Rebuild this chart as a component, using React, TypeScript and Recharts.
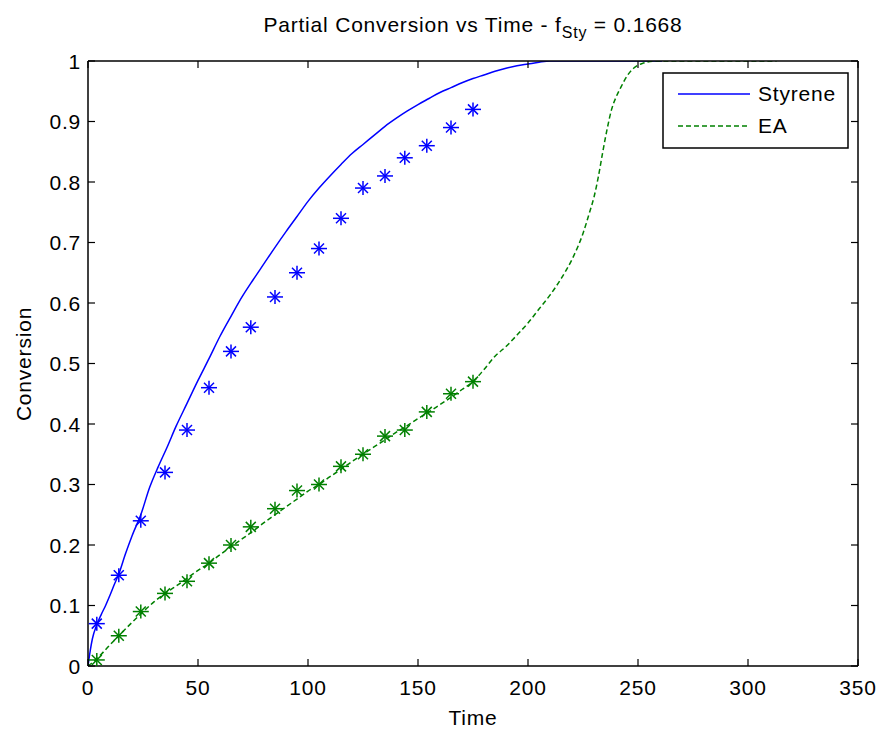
import { ComposedChart, Line, Scatter, XAxis, YAxis } from "recharts";

// measured points (asterisks)
const expTime = [4, 14, 24, 35, 45, 55, 65, 74, 85, 95, 105, 115, 125, 135, 144, 154, 165, 175];
const styreneExp = [0.07, 0.15, 0.24, 0.32, 0.39, 0.46, 0.52, 0.56, 0.61, 0.65, 0.69, 0.74, 0.79, 0.81, 0.84, 0.86, 0.89, 0.92];
const eaExp = [0.01, 0.05, 0.09, 0.12, 0.14, 0.17, 0.2, 0.23, 0.26, 0.29, 0.3, 0.33, 0.35, 0.38, 0.39, 0.42, 0.45, 0.47];

// model curves
const styreneT = [0, 1, 2, 4, 6, 8, 10, 12, 14, 17, 20, 24, 28, 32, 36, 40, 45, 50, 55, 60, 65, 70, 75, 80, 85, 90, 95, 100, 105, 110, 115, 120, 125, 130, 135, 140, 145, 150, 155, 160, 165, 170, 175, 180, 185, 190, 195, 200, 205, 210, 261];
const styreneV = [0, 0.025, 0.045, 0.068, 0.085, 0.1, 0.117, 0.135, 0.152, 0.185, 0.215, 0.25, 0.295, 0.33, 0.362, 0.396, 0.434, 0.472, 0.508, 0.545, 0.578, 0.61, 0.638, 0.665, 0.692, 0.718, 0.743, 0.768, 0.79, 0.81, 0.829, 0.847, 0.862, 0.877, 0.892, 0.905, 0.917, 0.928, 0.938, 0.948, 0.956, 0.964, 0.971, 0.977, 0.983, 0.988, 0.992, 0.995, 0.998, 1, 1];
const eaT = [0, 4, 10, 14, 20, 24, 30, 35, 40, 45, 50, 55, 60, 65, 70, 75, 80, 85, 90, 95, 100, 105, 110, 115, 120, 125, 130, 135, 140, 145, 150, 155, 160, 165, 170, 175, 180, 185, 190, 195, 200, 205, 210, 215, 220, 225, 228, 230, 232, 234, 236, 238, 240, 242, 245, 248, 252, 258, 313];
const eaV = [0, 0.012, 0.035, 0.05, 0.072, 0.086, 0.106, 0.12, 0.132, 0.145, 0.158, 0.17, 0.184, 0.197, 0.21, 0.223, 0.237, 0.25, 0.263, 0.276, 0.289, 0.3, 0.313, 0.325, 0.338, 0.35, 0.362, 0.374, 0.386, 0.397, 0.409, 0.42, 0.432, 0.444, 0.457, 0.47, 0.49, 0.512, 0.528, 0.547, 0.567, 0.59, 0.613, 0.64, 0.672, 0.715, 0.75, 0.775, 0.809, 0.85, 0.888, 0.92, 0.94, 0.955, 0.975, 0.988, 0.996, 1, 1];

const xTicks = [0, 50, 100, 150, 200, 250, 300, 350];
const yTicks = [0, 0.1, 0.2, 0.3, 0.4, 0.5, 0.6, 0.7, 0.8, 0.9, 1];

const styreneLine = styreneT.map((t, i) => ({ t, v: styreneV[i] }));
const eaLine = eaT.map((t, i) => ({ t, v: eaV[i] }));
const styrenePts = expTime.map((t, i) => ({ t, v: styreneExp[i] }));
const eaPts = expTime.map((t, i) => ({ t, v: eaExp[i] }));

const BLUE = "#0000ff";
const GREEN = "#008000";
const FONT = "'Liberation Sans', Arial, sans-serif";
const FS = 21;
const LS = 0.8;
const TICK = 7;

const Star = (color: string) => (p: any) => {
  const { cx, cy } = p;
  if (cx == null || cy == null) return <g />;
  const h = 8, v = 7, d = 5;
  return (
    <g stroke={color} strokeWidth={1.5}>
      <line x1={cx - h} y1={cy} x2={cx + h} y2={cy} />
      <line x1={cx} y1={cy - v} x2={cx} y2={cy + v} />
      <line x1={cx - d} y1={cy - d} x2={cx + d} y2={cy + d} />
      <line x1={cx - d} y1={cy + d} x2={cx + d} y2={cy - d} />
    </g>
  );
};

const BottomTick = (p: any) => (
  <g>
    <line x1={p.x} x2={p.x} y1={p.y} y2={p.y - TICK} stroke="#000" strokeWidth={1.2} />
    <text x={p.x} y={p.y + 29} textAnchor="middle" fontSize={FS} letterSpacing={LS} fontFamily={FONT} fill="#000">
      {p.payload.value}
    </text>
  </g>
);
const TopTick = (p: any) => (
  <line x1={p.x} x2={p.x} y1={p.y} y2={p.y + TICK} stroke="#000" strokeWidth={1.2} />
);
const LeftTick = (p: any) => (
  <g>
    <line x1={p.x} x2={p.x + TICK} y1={p.y} y2={p.y} stroke="#000" strokeWidth={1.2} />
    <text x={p.x - 7} y={p.y} dy="0.36em" textAnchor="end" fontSize={FS} letterSpacing={LS} fontFamily={FONT} fill="#000">
      {String(p.payload.value)}
    </text>
  </g>
);
const RightTick = (p: any) => (
  <line x1={p.x} x2={p.x - TICK} y1={p.y} y2={p.y} stroke="#000" strokeWidth={1.2} />
);

const axisLine = { stroke: "#000", strokeWidth: 1.5 };

export default function App() {
  return (
    <div style={{ position: "absolute", left: 0, top: 0, width: 880, height: 730, background: "#fff" }}>
      <ComposedChart width={880} height={730} margin={{ top: 51, right: 12, bottom: 34, left: 28 }}>
        <XAxis
          xAxisId="b"
          type="number"
          dataKey="t"
          domain={[0, 350]}
          ticks={xTicks}
          allowDataOverflow
          orientation="bottom"
          height={30}
          tickSize={0}
          tickMargin={0}
          tickLine={false}
          axisLine={axisLine}
          tick={BottomTick}
          interval={0}
        />
        <XAxis
          xAxisId="top"
          type="number"
          dataKey="t"
          domain={[0, 350]}
          ticks={xTicks}
          allowDataOverflow
          orientation="top"
          height={10}
          tickSize={0}
          tickMargin={0}
          tickLine={false}
          axisLine={axisLine}
          tick={TopTick}
          interval={0}
        />
        <YAxis
          yAxisId="l"
          type="number"
          domain={[0, 1]}
          ticks={yTicks}
          allowDataOverflow
          orientation="left"
          width={60}
          tickSize={0}
          tickMargin={0}
          tickLine={false}
          axisLine={axisLine}
          tick={LeftTick}
          interval={0}
        />
        <YAxis
          yAxisId="r"
          type="number"
          domain={[0, 1]}
          ticks={yTicks}
          allowDataOverflow
          orientation="right"
          width={10}
          tickSize={0}
          tickMargin={0}
          tickLine={false}
          axisLine={axisLine}
          tick={RightTick}
          interval={0}
        />
        <Line
          xAxisId="b"
          yAxisId="l"
          data={styreneLine}
          dataKey="v"
          type="monotone"
          stroke={BLUE}
          strokeWidth={1.5}
          dot={false}
          isAnimationActive={false}
        />
        <Line
          xAxisId="b"
          yAxisId="l"
          data={eaLine}
          dataKey="v"
          type="monotone"
          stroke={GREEN}
          strokeWidth={1.5}
          strokeDasharray="5 3"
          dot={false}
          isAnimationActive={false}
        />
        <Scatter xAxisId="b" yAxisId="l" data={styrenePts} dataKey="v" shape={Star(BLUE)} isAnimationActive={false} />
        <Scatter xAxisId="b" yAxisId="l" data={eaPts} dataKey="v" shape={Star(GREEN)} isAnimationActive={false} />
      </ComposedChart>
      <svg
        width={880}
        height={730}
        style={{ position: "absolute", left: 0, top: 0, pointerEvents: "none" }}
        fontFamily={FONT}
        letterSpacing={LS}
      >
        <text x={473} y={32} textAnchor="middle" fontSize={FS} fill="#000">
          Partial Conversion vs Time - f
          <tspan fontSize={16} dy={6}>Sty</tspan>
          <tspan dy={-6}> = 0.1668</tspan>
        </text>
        <text x={473} y={725} textAnchor="middle" fontSize={FS} fill="#000">
          Time
        </text>
        <text x={31} y={364} textAnchor="middle" fontSize={FS} fill="#000" transform="rotate(-90 31 364)">
          Conversion
        </text>
        <g>
          <rect x={663} y={73} width={185} height={75} fill="#fff" stroke="#000" strokeWidth={1.5} />
          <line x1={678} x2={750} y1={94} y2={94} stroke={BLUE} strokeWidth={1.5} />
          <text x={758} y={101} fontSize={FS} fill="#000">Styrene</text>
          <line x1={678} x2={750} y1={126} y2={126} stroke={GREEN} strokeWidth={1.5} strokeDasharray="5 3" />
          <text x={758} y={133} fontSize={FS} fill="#000">EA</text>
        </g>
      </svg>
    </div>
  );
}
